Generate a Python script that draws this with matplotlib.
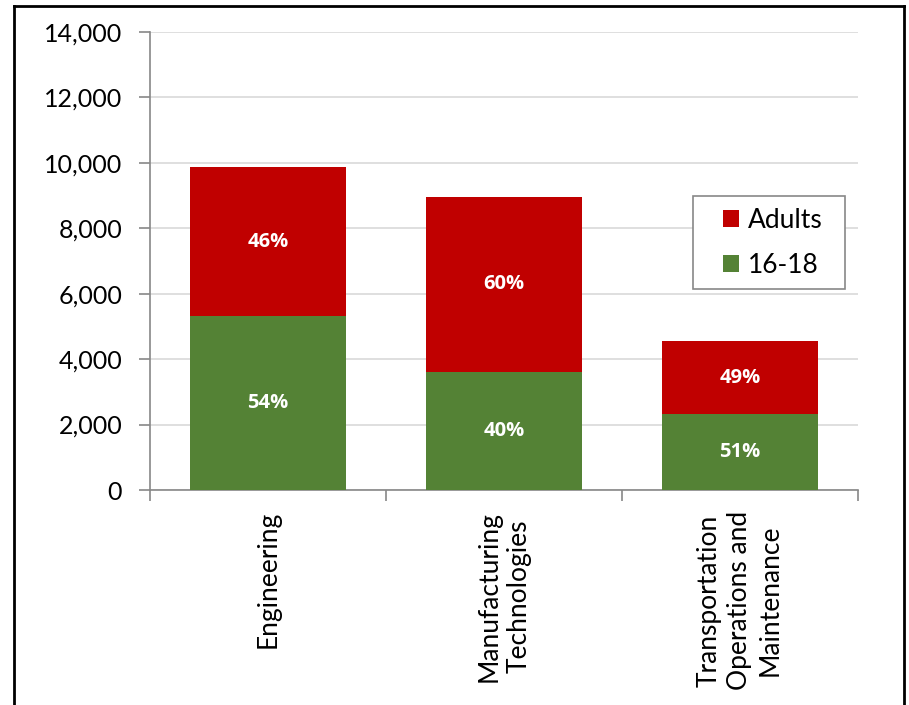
import matplotlib
matplotlib.use("Agg")
import matplotlib.pyplot as plt
from matplotlib.lines import Line2D
from matplotlib.patches import Rectangle
import numpy as np

categories = ["Engineering", "Manufacturing\nTechnologies", "Transportation\nOperations and\nMaintenance"]
youth_16_18 = [5320, 3620, 2320]
adults = [4550, 5340, 2230]
yticks = [0, 2000, 4000, 6000, 8000, 10000, 12000, 14000]

GREEN = "#548235"
RED = "#C00000"
FONT = ["Lato", "DejaVu Sans"]

plt.rcParams["font.family"] = FONT

fig = plt.figure(figsize=(9.09, 7.05), dpi=100)
ax = fig.add_axes([150/909, 1-490/705, 708/909, 458/705])

x = np.arange(len(categories))
w = 0.665
ax.bar(x, youth_16_18, width=w, color=GREEN, label="16-18", zorder=3)
ax.bar(x, adults, width=w, bottom=youth_16_18, color=RED, label="Adults", zorder=3)

for i in range(len(categories)):
    tot = youth_16_18[i] + adults[i]
    py = round(100 * youth_16_18[i] / tot)
    pa = 100 - py
    ax.text(x[i], youth_16_18[i] / 2, f"{py}%", ha="center", va="center",
            color="white", fontsize=14.5, fontweight="bold", family=["Open Sans", "DejaVu Sans"], zorder=4)
    ax.text(x[i], youth_16_18[i] + adults[i] / 2, f"{pa}%", ha="center", va="center",
            color="white", fontsize=14.5, fontweight="bold", family=["Open Sans", "DejaVu Sans"], zorder=4)

ax.set_xlim(-0.5, len(categories) - 0.5)
ax.set_ylim(0, 14000)
ax.set_yticks(yticks)
ax.set_yticklabels([f"{v:,}" for v in yticks], fontsize=18)
ax.yaxis.grid(True, color="#d9d9d9", linewidth=1.2, zorder=0)
ax.set_axisbelow(True)

ax.set_xticks(x)
ax.set_xticklabels(categories, rotation=90, fontsize=19, ha="center", va="top", linespacing=1.27)
ax.tick_params(axis="x", length=0, pad=15)
ax.set_xticks(np.arange(len(categories) + 1) - 0.5, minor=True)
ax.tick_params(axis="x", which="minor", length=8, color="#888888", width=1.2)
ax.tick_params(axis="y", length=8, color="#888888", width=1.2, pad=12)

for s in ["top", "right"]:
    ax.spines[s].set_visible(False)
for s in ["left", "bottom"]:
    ax.spines[s].set_color("#888888")
    ax.spines[s].set_linewidth(1.2)

# legend box
ax.add_patch(Rectangle((0.767, 0.439), 0.2146, 0.203, transform=ax.transAxes,
                       facecolor="white", edgecolor="#888888", lw=1.2, zorder=5))
handles, labels = ax.get_legend_handles_labels()
leg = ax.legend(handles[::-1], labels[::-1], loc="center left",
                bbox_to_anchor=(0.809, 0.540), fontsize=19,
                frameon=False,
                handlelength=0.6, handleheight=0.6, handletextpad=0.35,
                labelspacing=0.75, borderpad=0, borderaxespad=0)
leg.set_zorder(6)

# outer frame
fig.add_artist(Line2D([14/909, 14/909], [0, 1-6/705], transform=fig.transFigure, color="black", lw=2))
fig.add_artist(Line2D([14/909, 904/909], [1-6/705, 1-6/705], transform=fig.transFigure, color="black", lw=2))
fig.add_artist(Line2D([904/909, 904/909], [0, 1-6/705], transform=fig.transFigure, color="black", lw=2))

fig.savefig("out.png", dpi=100)
